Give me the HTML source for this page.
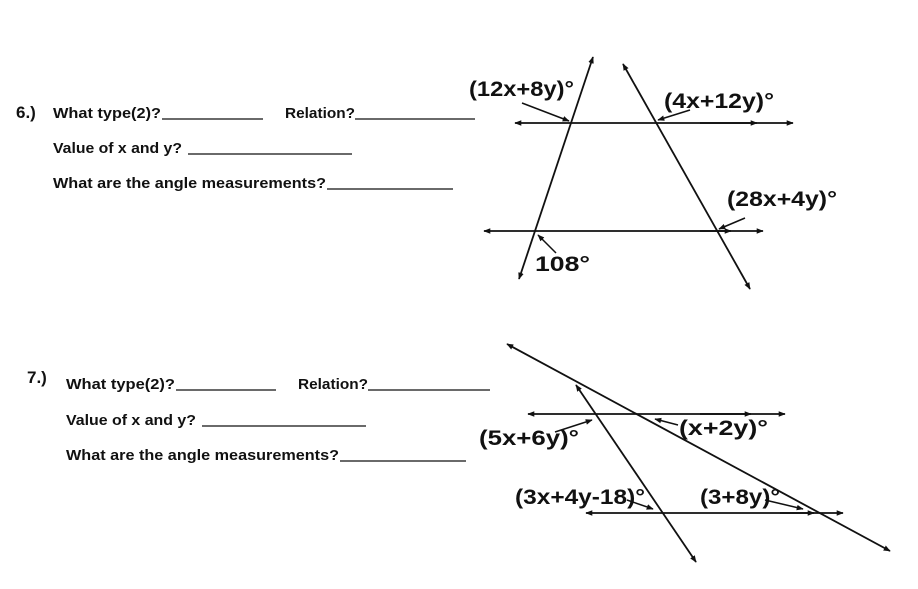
<!DOCTYPE html>
<html><head><meta charset="utf-8"><style>
html,body{margin:0;padding:0;background:#fff;}
svg{display:block;}
.q{font-family:"Liberation Sans",sans-serif;font-weight:bold;font-size:15px;fill:#111;}
.n{font-family:"Liberation Sans",sans-serif;font-weight:bold;font-size:17px;fill:#111;}
.l{font-family:"Liberation Sans",sans-serif;font-weight:bold;font-size:21px;fill:#111;}
</style></head><body>
<svg width="918" height="589" viewBox="0 0 918 589" xmlns="http://www.w3.org/2000/svg">
<defs>
<marker id="a" viewBox="0 0 10 10" refX="9" refY="5" markerWidth="7" markerHeight="7" orient="auto-start-reverse" markerUnits="userSpaceOnUse"><path d="M0,1 L10,5 L0,9 z" fill="#111"/></marker>
</defs>
<g stroke="#111" stroke-width="1.2">
<line x1="162" y1="119" x2="263" y2="119"/><line x1="355" y1="119" x2="475" y2="119"/>
<line x1="188" y1="154" x2="352" y2="154"/><line x1="327" y1="189" x2="453" y2="189"/>
<line x1="176" y1="390" x2="276" y2="390"/><line x1="368" y1="390" x2="490" y2="390"/>
<line x1="202" y1="426" x2="366" y2="426"/><line x1="340" y1="461" x2="466" y2="461"/>
</g>
<text class="n" x="16" y="118">6.)</text>
<text class="q" x="53" y="118" textLength="108" lengthAdjust="spacingAndGlyphs">What type(2)?</text>
<text class="q" x="285" y="118" textLength="70" lengthAdjust="spacingAndGlyphs">Relation?</text>
<text class="q" x="53" y="153" textLength="129" lengthAdjust="spacingAndGlyphs">Value of x and y?</text>
<text class="q" x="53" y="188" textLength="273" lengthAdjust="spacingAndGlyphs">What are the angle measurements?</text>
<text class="n" x="27" y="383">7.)</text>
<text class="q" x="66" y="389" textLength="109" lengthAdjust="spacingAndGlyphs">What type(2)?</text>
<text class="q" x="298" y="389" textLength="70" lengthAdjust="spacingAndGlyphs">Relation?</text>
<text class="q" x="66" y="425" textLength="130" lengthAdjust="spacingAndGlyphs">Value of x and y?</text>
<text class="q" x="66" y="460" textLength="273" lengthAdjust="spacingAndGlyphs">What are the angle measurements?</text>

<g stroke="#111" stroke-width="1.8" fill="none">
<line x1="519" y1="279" x2="593" y2="57" marker-start="url(#a)" marker-end="url(#a)"/>
<line x1="623" y1="64" x2="750" y2="289" marker-start="url(#a)" marker-end="url(#a)"/>
<line x1="515" y1="123" x2="793" y2="123" marker-start="url(#a)" marker-end="url(#a)"/>
<line x1="700" y1="123" x2="757" y2="123" marker-end="url(#a)"/>
<line x1="484" y1="231" x2="763" y2="231" marker-start="url(#a)" marker-end="url(#a)"/>
<line x1="700" y1="231" x2="731" y2="231" marker-end="url(#a)"/>
</g>
<g stroke="#111" stroke-width="1.5">
<line x1="522" y1="103" x2="569" y2="121" marker-end="url(#a)"/>
<line x1="690" y1="110" x2="658" y2="120" marker-end="url(#a)"/>
<line x1="745" y1="218" x2="719" y2="229" marker-end="url(#a)"/>
<line x1="556" y1="253" x2="538" y2="235" marker-end="url(#a)"/>
</g>
<text class="l" x="469" y="96" textLength="105" lengthAdjust="spacingAndGlyphs">(12x+8y)°</text>
<text class="l" x="664" y="108" textLength="110" lengthAdjust="spacingAndGlyphs">(4x+12y)°</text>
<text class="l" x="727" y="206" textLength="110" lengthAdjust="spacingAndGlyphs">(28x+4y)°</text>
<text class="l" x="535" y="271" textLength="55" lengthAdjust="spacingAndGlyphs">108°</text>

<g stroke="#111" stroke-width="1.8" fill="none">
<line x1="507" y1="344" x2="890" y2="551" marker-start="url(#a)" marker-end="url(#a)"/>
<line x1="576" y1="385" x2="696" y2="562" marker-start="url(#a)" marker-end="url(#a)"/>
<line x1="528" y1="414" x2="785" y2="414" marker-start="url(#a)" marker-end="url(#a)"/>
<line x1="700" y1="414" x2="751" y2="414" marker-end="url(#a)"/>
<line x1="586" y1="513" x2="843" y2="513" marker-start="url(#a)" marker-end="url(#a)"/>
<line x1="780" y1="513" x2="814" y2="513" marker-end="url(#a)"/>
</g>
<g stroke="#111" stroke-width="1.5">
<line x1="555" y1="432" x2="592" y2="420" marker-end="url(#a)"/>
<line x1="678" y1="425" x2="655" y2="419" marker-end="url(#a)"/>
<line x1="627" y1="500" x2="653" y2="509" marker-end="url(#a)"/>
<line x1="765" y1="500" x2="803" y2="509" marker-end="url(#a)"/>
</g>
<text class="l" x="479" y="445" textLength="100" lengthAdjust="spacingAndGlyphs">(5x+6y)°</text>
<text class="l" x="679" y="435" textLength="89" lengthAdjust="spacingAndGlyphs">(x+2y)°</text>
<text class="l" x="515" y="504" textLength="130" lengthAdjust="spacingAndGlyphs">(3x+4y-18)°</text>
<text class="l" x="700" y="504" textLength="80" lengthAdjust="spacingAndGlyphs">(3+8y)°</text>
</svg>
</body></html>
